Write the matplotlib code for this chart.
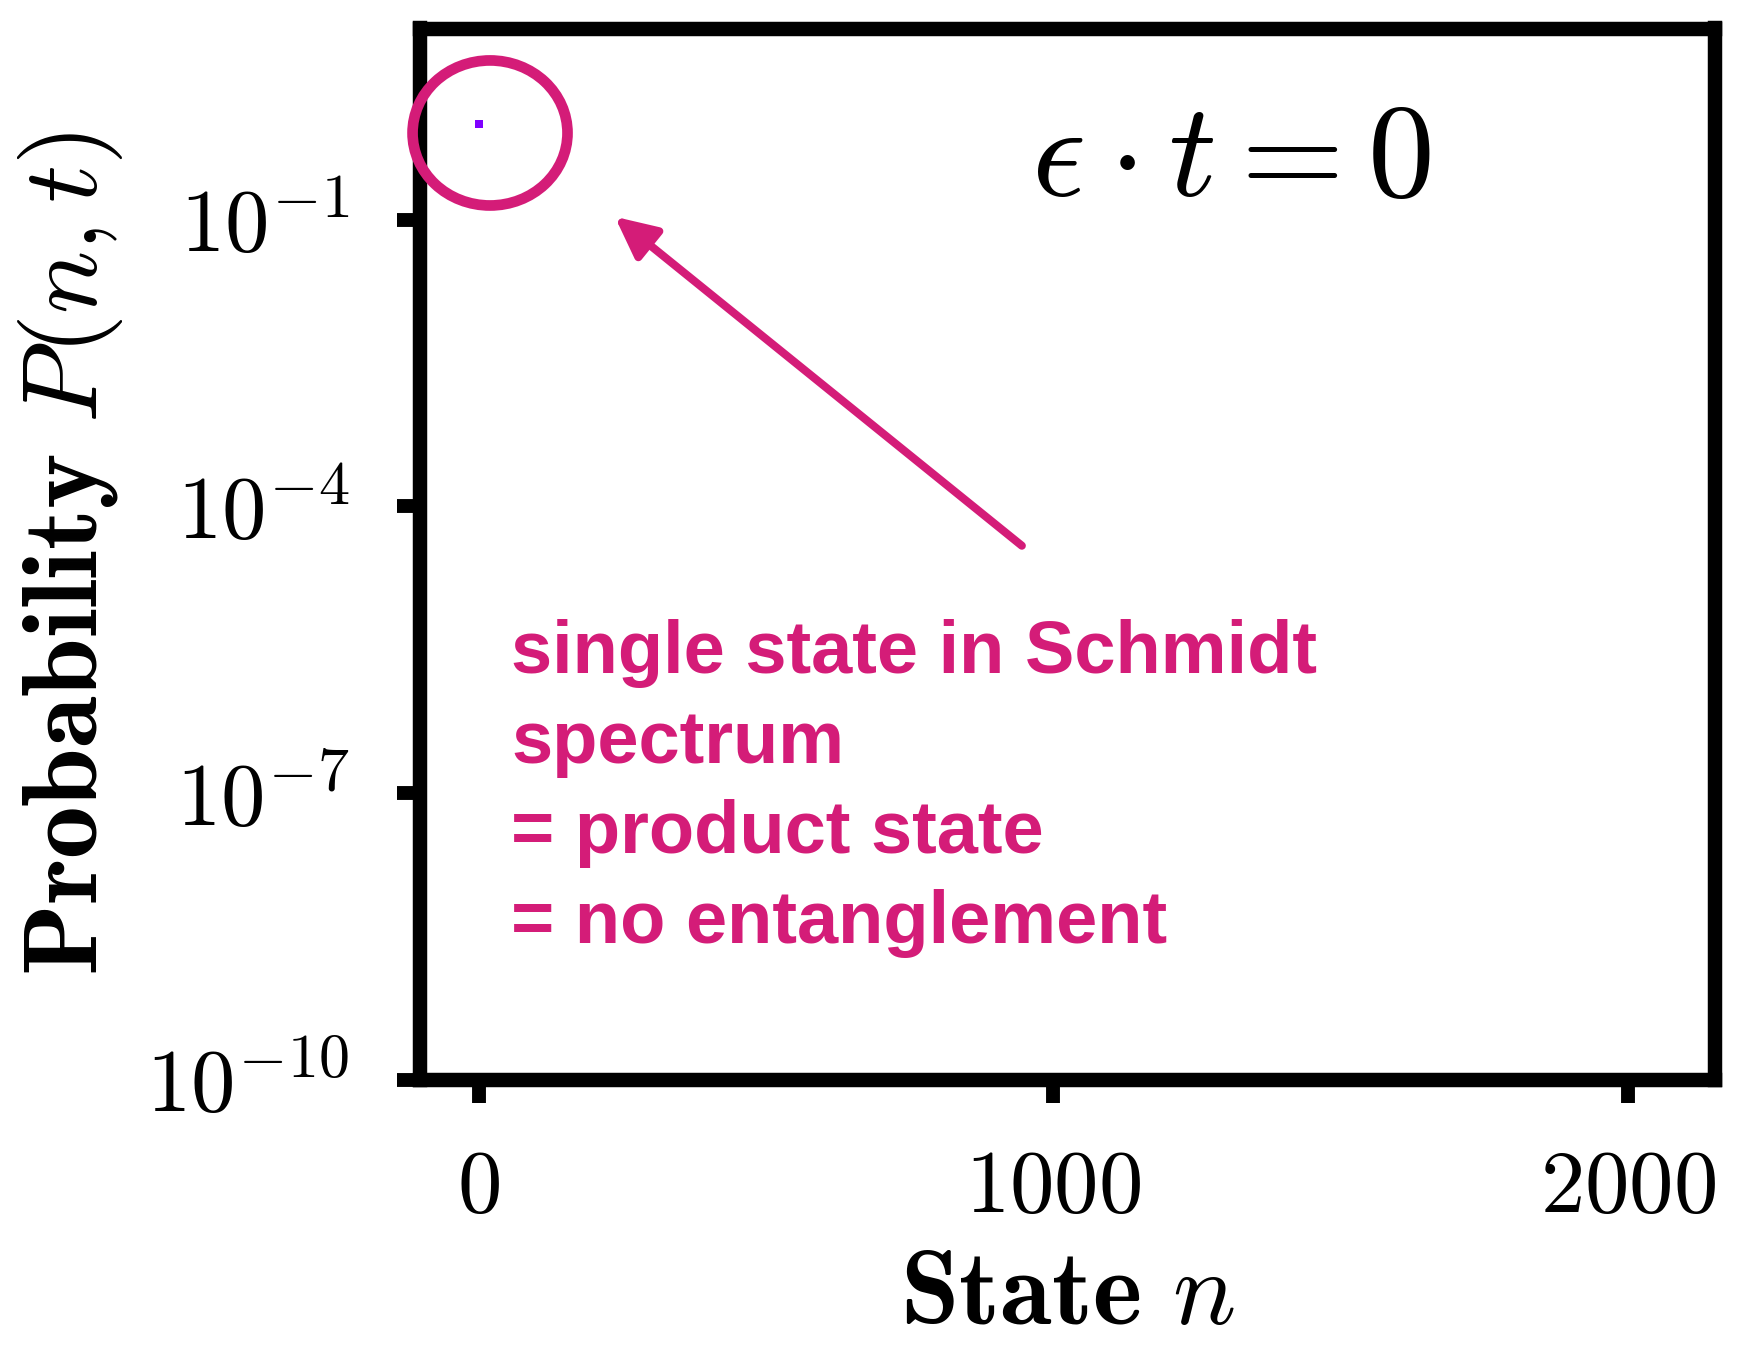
import numpy as np
import matplotlib
matplotlib.use("Agg")
import matplotlib.pyplot as plt
from matplotlib.patches import Ellipse
from matplotlib.ticker import NullLocator

plt.rcParams["font.family"] = "serif"
plt.rcParams["font.serif"] = ["cmr10"]
plt.rcParams["mathtext.fontset"] = "cm"
plt.rcParams["axes.formatter.use_mathtext"] = True

# Schmidt spectrum at t = 0: only the first state is occupied
states = [0]
probability = [1.0]

xticks = [0, 1000, 2000]
yticks = [1e-10, 1e-7, 1e-4, 1e-1]

note_lines = [
    "single state in Schmidt",
    "spectrum",
    "= product state",
    "= no entanglement",
]
pink = "#d41c78"

W, H = 1742, 1355
fig = plt.figure(figsize=(W / 200, H / 200), dpi=200)
ax = fig.add_axes([420 / W, 1 - 1079.5 / H, 1294.5 / W, 1051 / H])

ax.plot(states, probability, ls="none", marker="s", ms=3.0, color="#7f00ff", mew=0)

ax.set_yscale("log")
ax.set_xlim(-102.4, 2150.4)
ax.set_ylim(1e-10, 1e1)
ax.set_xticks(xticks)
ax.set_yticks(yticks)
ax.yaxis.set_minor_locator(NullLocator())
ax.xaxis.set_minor_locator(NullLocator())

for sp in ax.spines.values():
    sp.set_linewidth(5.2)
ax.tick_params(which="major", direction="out", length=8.4, width=5.0,
               labelsize=32, top=False, right=False)
ax.tick_params(axis="y", pad=17)
ax.tick_params(axis="x", pad=17)

ax.set_xlabel(r"$\mathbf{State}\ n$", fontsize=38)
ax.set_ylabel(r"$\mathbf{Probability}\ P(n,t)$", fontsize=38)
ax.xaxis.set_label_coords(0.5, -0.163)
ax.yaxis.set_label_coords(-0.228, 0.5)

ax.text(0.6265, 0.8406, r"$\epsilon\cdot t=0$", transform=ax.transAxes,
        fontsize=48, ha="center", va="baseline")

# ring around the occupied state
ring = Ellipse((0.0541, 0.9006), 0.1197, 0.138, transform=ax.transAxes,
               fill=False, edgecolor=pink, lw=3.85, clip_on=False, zorder=5)
ax.add_patch(ring)

ax.annotate("", xy=(236.7, 0.107), xytext=(945, 3.86e-5),
            arrowprops=dict(arrowstyle="-|>,head_length=0.62,head_width=0.3",
                            mutation_scale=20, lw=2.9, color=pink,
                            shrinkA=0, shrinkB=0))

y0 = (1079.5 - 673) / 1051
dy = 90 / 1051
for i, line in enumerate(note_lines):
    ax.text(0.0703, y0 - i * dy, line, transform=ax.transAxes,
            fontsize=26.7, fontweight="bold", family="Liberation Sans",
            color=pink, ha="left", va="baseline")

fig.savefig("out.png", dpi=200)
